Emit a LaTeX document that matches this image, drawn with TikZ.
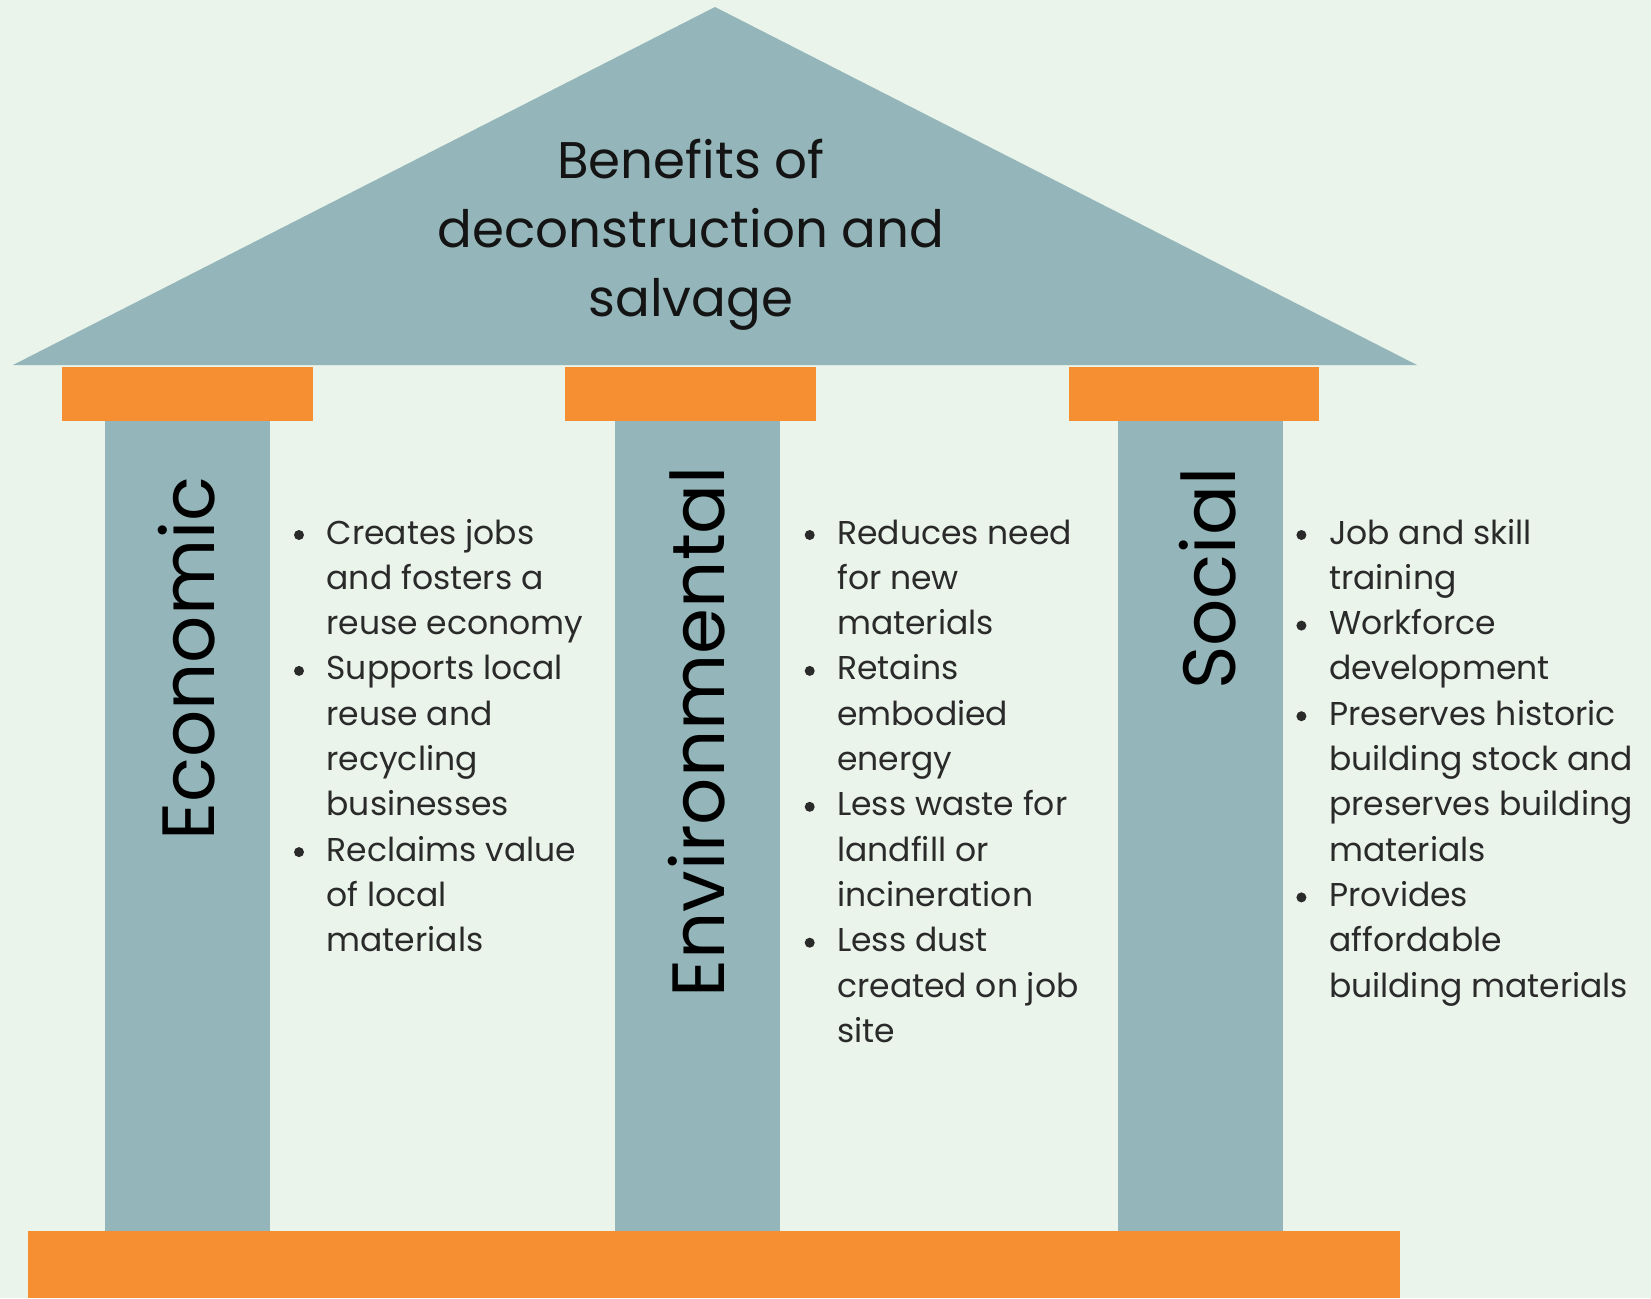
\documentclass[tikz,border=0pt]{standalone}
\usepackage{fontspec}
\setmainfont{Poppins}
\definecolor{bgc}{HTML}{EAF4EA}
\definecolor{teal}{HTML}{94B6BA}
\definecolor{orng}{HTML}{F58F31}
\definecolor{txtc}{HTML}{2A2A2A}
\tikzset{
  stone/.style={fill=teal, draw=none},
  capital/.style={fill=orng, draw=none},
  titletxt/.style={font=\fontsize{51.5}{69}\selectfont, text=black!92, inner sep=0pt, anchor=base},
  pillarlabel/.style={font=\fontsize{74}{80}\selectfont, text=black, inner sep=0pt, rotate=90, anchor=base west},
  itemtxt/.style={font=\fontsize{33}{45}\selectfont, text=txtc, inner sep=0pt, anchor=base west},
  bulletmark/.style={circle, fill=txtc, draw=none, inner sep=0pt, minimum size=10pt},
}
\begin{document}
\begin{tikzpicture}[x=1pt,y=-1pt]
\useasboundingbox (0,0) rectangle (1651,1298);
\fill[bgc] (0,0) rectangle (1651,1298);
% roof
\fill[stone] (13,365) -- (715,7) -- (1417,365) -- cycle;
% capitals
\fill[capital] (62,367) rectangle (313,421);
\fill[capital] (565,367) rectangle (816,421);
\fill[capital] (1069,367) rectangle (1319,421);
% columns
\fill[stone] (105,421) rectangle (270,1231);
\fill[stone] (615,421) rectangle (780,1231);
\fill[stone] (1118,421) rectangle (1283,1231);
% base
\fill[capital] (28,1231) rectangle (1400,1298);
% title
\node[titletxt] (t1) at (691,178) {Benefits of};
\node[titletxt] (t2) at (691,247) {deconstruction and};
\node[titletxt] (t3) at (691,316) {salvage};
% pillar labels
\node[pillarlabel] (econ) at (214,841) {Economic};
\node[pillarlabel] (envi) at (724,998) {Environmental};
\node[pillarlabel] (soci) at (1235,690) {Social};
% economic items
\foreach \t [count=\i] in {Creates jobs, and fosters a, reuse economy, Supports local, reuse and, recycling, businesses, Reclaims value, of local, materials}
  \node[itemtxt] (eco-\i) at (326.4,{544+45.3*(\i-1)}) {\t};
\foreach \k in {1,4,8}
  \node[bulletmark] (ecob-\k) at (299,{535+45.3*(\k-1)}) {};
% environmental items
\foreach \t [count=\i] in {Reduces need, for new, materials, Retains, embodied, energy, Less waste for, landfill or, incineration, Less dust, created on job, site}
  \node[itemtxt] (env-\i) at (837,{544+45.3*(\i-1)}) {\t};
\foreach \k in {1,4,7,10}
  \node[bulletmark] (envb-\k) at (809.7,{535+45.3*(\k-1)}) {};
% social items
\foreach \t [count=\i] in {Job and skill, training, Workforce, development, Preserves historic, building stock and, preserves building, materials, Provides, affordable, building materials}
  \node[itemtxt] (soc-\i) at (1328.8,{544+45.3*(\i-1)}) {\t};
\foreach \k in {1,3,5,9}
  \node[bulletmark] (socb-\k) at (1301.4,{535+45.3*(\k-1)}) {};
\end{tikzpicture}
\end{document}
